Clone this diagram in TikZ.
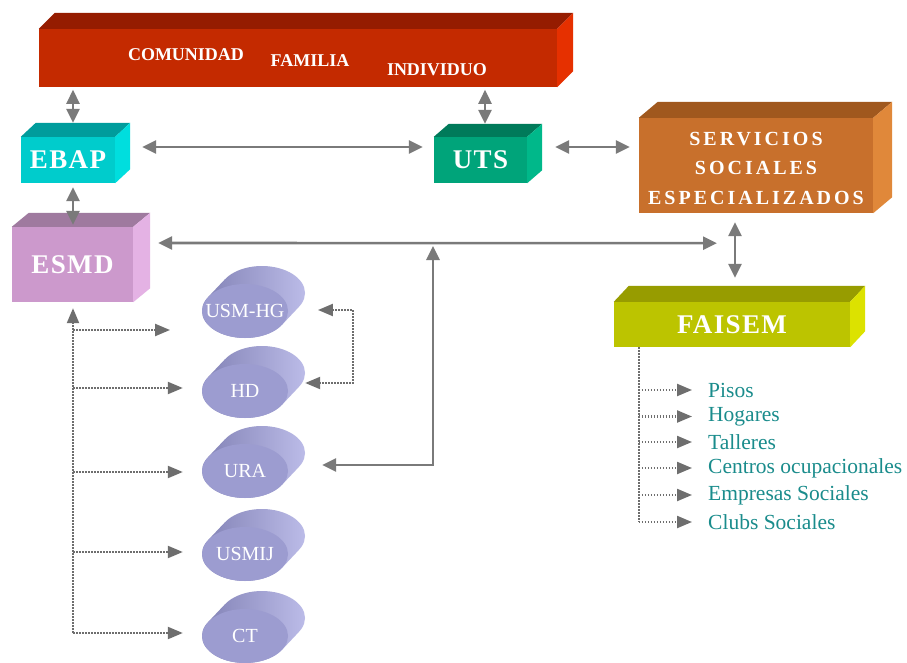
\documentclass[tikz,border=0pt]{standalone}
\usepackage{fontspec}
\setmainfont{Liberation Serif}
\usetikzlibrary{arrows.meta,shapes.geometric}
\definecolor{redF}{HTML}{C42A00}\definecolor{redT}{HTML}{951C00}\definecolor{redS}{HTML}{E63000}
\definecolor{ebapF}{HTML}{00CCCC}\definecolor{ebapT}{HTML}{009C9C}\definecolor{ebapS}{HTML}{00DEDE}
\definecolor{utsF}{HTML}{00A47A}\definecolor{utsT}{HTML}{007A5A}\definecolor{utsS}{HTML}{00B88A}
\definecolor{esmdF}{HTML}{CC99CC}\definecolor{esmdT}{HTML}{9F7A9F}\definecolor{esmdS}{HTML}{E4B2E4}
\definecolor{ssF}{HTML}{C8702C}\definecolor{ssT}{HTML}{A0581E}\definecolor{ssS}{HTML}{E0883A}
\definecolor{faiF}{HTML}{BCC400}\definecolor{faiT}{HTML}{979C00}\definecolor{faiS}{HTML}{DCE200}
\definecolor{capF}{HTML}{9C9CD0}\definecolor{capD}{HTML}{7E7EB2}\definecolor{capL}{HTML}{BEBEEA}
\definecolor{arrG}{HTML}{7A7A7A}
\definecolor{dotG}{HTML}{6E6E6E}
\definecolor{listT}{HTML}{1A8C8C}
\newcommand\myboxfont{\bfseries\fontsize{27}{30}\selectfont\addfontfeatures{LetterSpace=5}}
\newcommand\myssfont{\bfseries\fontsize{20}{29.5}\selectfont\addfontfeatures{LetterSpace=15}}
\newcommand\mybarfont{\bfseries\fontsize{18}{20}\selectfont}
\newcommand\mycapfont{\fontsize{20}{22}\selectfont}
\newcommand\mylistfont{\fontsize{21.5}{24}\selectfont}
\tikzset{
  cubeface/.style={rectangle, inner sep=0pt, draw=none, text=white, font=\myboxfont},
  bartext/.style={inner sep=0pt, text=white, font=\mybarfont},
  capnode/.style={ellipse, minimum width=86pt, minimum height=54pt, inner sep=0pt, text=white, font=\mycapfont},
  listitem/.style={anchor=west, inner sep=0pt, text=listT, font=\mylistfont},
  arr/.style={draw=arrG, line width=2.6pt, >={Triangle[length=14pt,width=13pt]}},
  dotarr/.style={draw=dotG, line width=2.2pt, dash pattern=on 1.6pt off 1.4pt, >={Triangle[length=15pt,width=12pt]}},
}
% #1 name, #2 centre, #3 width, #4 height, #5 dx, #6 dy, #7 colour prefix, #8 text
\newcommand\cuboid[8]{%
  \node[cubeface, fill=#7F, minimum width=#3pt, minimum height=#4pt] (#1) at (#2) {#8};
  \fill[#7T] (#1.north west) -- ([shift={(#5,#6)}]#1.north west) -- ([shift={(#5,#6)}]#1.north east) -- (#1.north east) -- cycle;
  \fill[#7S] (#1.north east) -- ([shift={(#5,#6)}]#1.north east) -- ([shift={(#5,#6)}]#1.south east) -- (#1.south east) -- cycle;
}
% #1 name, #2 centre of front disc, #3 text
\newcommand\capsule[3]{%
  \begin{scope}[shift={#2}]
    \begin{scope}
      \clip (-37,-13.8) -- (-20,-31.8) -- (54,-4.2) -- (37,13.8) -- cycle
            (17,-18) ellipse [x radius=43, y radius=27]
            (0,0) ellipse [x radius=43, y radius=27];
      \shade[left color=capD, right color=capL] (-50,-50) rectangle (65,45);
    \end{scope}
    \fill[capF] (0,0) ellipse [x radius=43, y radius=27];
  \end{scope}
  \node[capnode] (#1) at #2 {#3};
}
\begin{document}
\begin{tikzpicture}[x=1pt,y=-1pt]
\useasboundingbox (0,0) rectangle (907,663);
\fill[white] (0,0) rectangle (907,663);

% boxes
\cuboid{bar}{298,58}{518}{58}{16}{-16}{red}{}
\cuboid{ebap}{68,160}{94}{46}{15}{-14}{ebap}{EBAP}
\cuboid{uts}{480.5,160}{93}{46}{15}{-13}{uts}{UTS}
\cuboid{esmd}{72.5,264.5}{121}{75}{17}{-14}{esmd}{ESMD}
\cuboid{ss}{756,165.5}{234}{95}{19}{-16}{ss}{}
\node[text=white, font=\myssfont, align=center, inner sep=0pt] (sstext) at (756,168) {SERVICIOS\\SOCIALES\\ESPECIALIZADOS};
\cuboid{faisem}{732,324.5}{236}{45}{15}{-16}{fai}{FAISEM}

\node[bartext] (comunidad) at (186,55) {COMUNIDAD};
\node[bartext] (familia) at (310,61) {FAMILIA};
\node[bartext] (individuo) at (437,70) {INDIVIDUO};

% capsules
\capsule{usmhg}{(245,311)}{USM-HG}
\capsule{hd}{(245,391)}{HD}
\capsule{ura}{(245,471)}{URA}
\capsule{usmij}{(245,554)}{USMIJ}
\capsule{ct}{(245,636)}{CT}

% solid connectors
\draw[arr,<->] ([shift={(5,-14)}]ebap.north) -- ([shift={(5,-47)}]ebap.north);
\draw[arr,<->] ([shift={(4.5,-13)}]uts.north) -- ([shift={(4.5,-47)}]uts.north);
\draw[arr,<->] ([shift={(27,-13)}]ebap.east) -- ([shift={(-11,-13)}]uts.west);
\draw[arr,<->] ([shift={(28,-13)}]uts.east) -- ([shift={(-9,-18.5)}]ss.west);
\draw[arr,<->] ([shift={(5,4)}]ebap.south) -- ([shift={(0.5,-2)}]esmd.north);
\draw[arr,<->] ([shift={(25,-21.5)}]esmd.east) -- ([shift={(-39,30)}]ss.south);
\draw[arr,<->] ([shift={(-21,9)}]ss.south) -- ([shift={(3,-24)}]faisem.north);
\coordinate (j) at (433,246);
\draw[arr,<->] ([shift={(34,-6)}]ura.east) -| (j);

% dotted connectors from ESMD
\coordinate (etip) at ([shift={(0.5,6)}]esmd.south);
\coordinate (b1) at (73,330);
\coordinate (b2) at (73,388);
\coordinate (b3) at (73,472);
\coordinate (b4) at (73,552);
\coordinate (b5) at (73,633);
\draw[dotarr,->] (b5) -- (etip);
\draw[dotarr,->] (b1) -- ([shift={(-19,19)}]usmhg.west);
\draw[dotarr,->] (b2) -- ([shift={(-19,-3)}]hd.west);
\draw[dotarr,->] (b3) -- ([shift={(-19,1)}]ura.west);
\draw[dotarr,->] (b4) -- ([shift={(-19,-2)}]usmij.west);
\draw[dotarr,->] (b5) -- ([shift={(-19,-3)}]ct.west);
\draw[dotarr,<->] ([shift={(17,-1)}]usmhg.east) -- ++(35,0) |- ([shift={(17,-8)}]hd.east);

% FAISEM list
\node[listitem] (pisos) at (708,390) {Pisos};
\node[listitem] (hogares) at (708,416.5) {Hogares};
\node[listitem] (talleres) at (708,442) {Talleres};
\node[listitem] (centros) at (708,468) {Centros ocupacionales};
\node[listitem] (empresas) at (708,495) {Empresas Sociales};
\node[listitem] (clubs) at (708,522) {Clubs Sociales};
\coordinate (ftop) at ([shift={(25,0)}]faisem.south west);
\draw[dotarr] (ftop) -- (ftop |- clubs.west);
\foreach \n in {pisos,hogares,talleres,centros,empresas,clubs}
  \draw[dotarr,->] (ftop |- \n.west) -- ([shift={(-16,0)}]\n.west);
\end{tikzpicture}
\end{document}
